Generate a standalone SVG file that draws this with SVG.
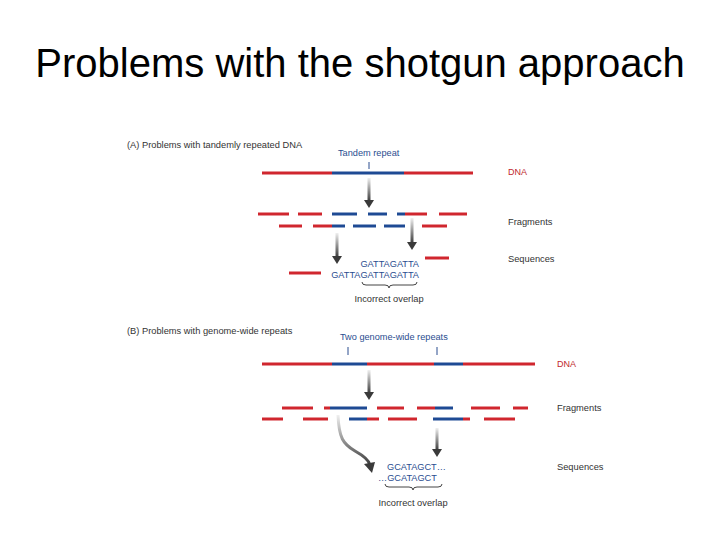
<svg xmlns="http://www.w3.org/2000/svg" width="720" height="540" viewBox="0 0 720 540">
<defs>
<linearGradient id="g" x1="0" y1="0" x2="0" y2="1">
<stop offset="0" stop-color="#f0f0f0"/>
<stop offset="1" stop-color="#3c3c3c"/>
</linearGradient>
<style>
.r{stroke:#d0262e;stroke-width:3;fill:none}
.b{stroke:#1e4a94;stroke-width:3;fill:none}
.t{font-family:"Liberation Sans",Arial,sans-serif;font-size:9.3px;fill:#333}
.bl{font-family:"Liberation Sans",Arial,sans-serif;font-size:9.2px;fill:#2a4d8f}
.rl{font-family:"Liberation Sans",Arial,sans-serif;font-size:9px;fill:#c0282d}
.sh{fill:url(#g)}
.hd{fill:#3a3a3a}
.tk{stroke:#2a4d8f;stroke-width:1}
.br{stroke:#444;stroke-width:1;fill:none}
</style>
</defs>
<rect width="720" height="540" fill="#fff"/>
<text x="360" y="77" text-anchor="middle" font-family="Liberation Sans,Arial,sans-serif" font-size="40" fill="#000">Problems with the shotgun approach</text>

<g id="panelA">
<text class="t" x="127" y="148">(A) Problems with tandemly repeated DNA</text>
<g id="tandem-label">
<text class="bl" x="338" y="156">Tandem repeat</text>
<line class="tk" x1="369" y1="162" x2="369" y2="169"/>
</g>
<g id="dnaA">
<line class="r" x1="262" y1="173" x2="332" y2="173"/>
<line class="b" x1="332" y1="173" x2="404" y2="173"/>
<line class="r" x1="404" y1="173" x2="473" y2="173"/>
<text class="rl" x="508" y="175">DNA</text>
</g>
<g id="fragmentsA">
<line class="r" x1="258" y1="214" x2="289" y2="214"/>
<line class="r" x1="298" y1="214" x2="322" y2="214"/>
<line class="b" x1="332" y1="214" x2="357" y2="214"/>
<line class="b" x1="368" y1="214" x2="387" y2="214"/>
<line class="b" x1="397" y1="214" x2="405" y2="214"/>
<line class="r" x1="405" y1="214" x2="427" y2="214"/>
<line class="r" x1="439" y1="214" x2="467" y2="214"/>
<line class="r" x1="279" y1="226" x2="302" y2="226"/>
<line class="r" x1="313" y1="226" x2="332" y2="226"/>
<line class="b" x1="332" y1="226" x2="345" y2="226"/>
<line class="b" x1="353" y1="226" x2="376" y2="226"/>
<line class="b" x1="384" y1="226" x2="405" y2="226"/>
<line class="r" x1="422" y1="226" x2="447" y2="226"/>
<text class="t" x="508" y="225">Fragments</text>
</g>
<g id="sequencesA">
<line class="r" x1="425" y1="258" x2="449" y2="258"/>
<line class="r" x1="289" y1="273" x2="321" y2="273"/>
<text class="bl" x="419" y="266.5" text-anchor="end">GATTAGATTA</text>
<text class="bl" x="419" y="277.5" text-anchor="end">GATTAGATTAGATTA</text>
<text class="t" x="508" y="262">Sequences</text>
<path class="br" d="M362,282 Q362,285 366,285 L385,285 Q389,285 389,288 Q389,285 393,285 L413,285 Q417,285 417,282"/>
<text class="t" x="389" y="302" text-anchor="middle">Incorrect overlap</text>
</g>
</g>

<g id="panelB">
<text class="t" x="127" y="334">(B) Problems with genome-wide repeats</text>
<g id="repeats-label">
<text class="bl" x="340" y="340">Two genome-wide repeats</text>
<line class="tk" x1="348" y1="347" x2="348" y2="355"/>
<line class="tk" x1="437" y1="347" x2="437" y2="355"/>
</g>
<g id="dnaB">
<line class="r" x1="262" y1="364" x2="332" y2="364"/>
<line class="b" x1="332" y1="364" x2="367" y2="364"/>
<line class="r" x1="367" y1="364" x2="434" y2="364"/>
<line class="b" x1="434" y1="364" x2="463" y2="364"/>
<line class="r" x1="463" y1="364" x2="535" y2="364"/>
<text class="rl" x="557" y="367">DNA</text>
</g>
<g id="fragmentsB">
<line class="r" x1="282" y1="408" x2="313" y2="408"/>
<line class="r" x1="324" y1="408" x2="330" y2="408"/>
<line class="b" x1="330" y1="408" x2="367" y2="408"/>
<line class="r" x1="377" y1="408" x2="404" y2="408"/>
<line class="r" x1="417" y1="408" x2="435" y2="408"/>
<line class="b" x1="435" y1="408" x2="453" y2="408"/>
<line class="r" x1="471" y1="408" x2="500" y2="408"/>
<line class="r" x1="513" y1="408" x2="528" y2="408"/>
<line class="r" x1="262" y1="419" x2="283" y2="419"/>
<line class="r" x1="303" y1="419" x2="328" y2="419"/>
<line class="b" x1="349" y1="419" x2="367" y2="419"/>
<line class="r" x1="367" y1="419" x2="379" y2="419"/>
<line class="r" x1="388" y1="419" x2="417" y2="419"/>
<line class="b" x1="433" y1="419" x2="463" y2="419"/>
<line class="r" x1="463" y1="419" x2="470" y2="419"/>
<line class="r" x1="484" y1="419" x2="515" y2="419"/>
<text class="t" x="557" y="411">Fragments</text>
</g>
<g id="sequencesB">
<text class="bl" x="387" y="470">GCATAGCT…</text>
<text class="bl" x="378" y="480.5">…GCATAGCT</text>
<text class="t" x="557" y="470">Sequences</text>
<path class="br" d="M385,484 Q385,487 389,487 L409,487 Q413,487 413,490 Q413,487 417,487 L438,487 Q442,487 442,484"/>
<text class="t" x="413" y="506" text-anchor="middle">Incorrect overlap</text>
</g>
</g>

<g id="connectors">
<rect class="sh" x="367.5" y="178" width="3" height="23"/>
<polygon class="hd" points="364,200 374,200 369,208"/>
<rect class="sh" x="335.5" y="233" width="3" height="24"/>
<polygon class="hd" points="332,256 342,256 337,264"/>
<rect class="sh" x="410.5" y="218" width="3" height="25"/>
<polygon class="hd" points="407,242 417,242 412,250"/>
<rect class="sh" x="367.5" y="370" width="3" height="23"/>
<polygon class="hd" points="364,392 374,392 369,400"/>
<rect class="sh" x="435.5" y="428" width="3" height="22"/>
<polygon class="hd" points="432,449 442,449 437,457"/>
<path d="M338,415 C339,438 343,444 355,451 C364,456 369,460 370,465" stroke="url(#g)" stroke-width="3" fill="none"/>
<polygon class="hd" points="364,464 375,462 372,473"/>
</g>
</svg>
